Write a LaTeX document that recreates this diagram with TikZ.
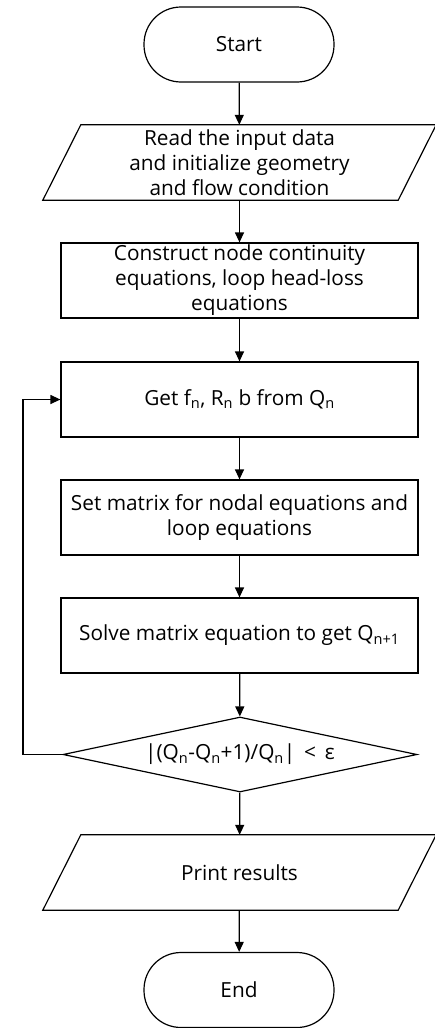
\documentclass[tikz,border=0pt]{standalone}
\usepackage{fontspec}
\setmainfont{Open Sans}
\usetikzlibrary{shapes.geometric,arrows.meta}
\begin{document}
\begin{tikzpicture}[x=1pt,y=-1pt,
  every node/.style={font=\fontsize{20.8}{25}\selectfont, align=center, inner sep=0pt},
  term/.style={draw, line width=1.2pt, rounded corners=37pt, minimum width=190pt, minimum height=75pt},
  procbox/.style={draw, line width=1.2pt, minimum width=357pt, minimum height=75pt},
  io/.style={minimum width=355pt, minimum height=75pt},
  decis/.style={draw, line width=1.2pt, diamond, aspect=4.72, minimum width=354pt, minimum height=75pt},
  arr/.style={line width=1.2pt, -{Triangle[width=9pt,length=10pt]}},
  outl/.style={line width=1.2pt}]
\useasboundingbox (0,0) rectangle (434,1028);
\node[term] (start) at (239,44.5) {Start};
\node[io] (read) at (239.5,162.5) {Read the input data\\and initialize geometry\\and flow condition};
\draw[outl] ([xshift=19pt]read.north west) -- ([xshift=19pt]read.north east) -- ([xshift=-19pt]read.south east) -- ([xshift=-19pt]read.south west) -- cycle;
\node[procbox] (cons) at (239.5,280.5) {Construct node continuity\\equations, loop head-loss\\equations};
\node[procbox] (get) at (239.5,399.5) {Get f\textsubscript{n}, R\textsubscript{n} b from Q\textsubscript{n}};
\node[procbox] (set) at (239.5,517.5) {Set matrix for nodal equations and\\loop equations};
\node[procbox] (solve) at (239.5,635.5) {Solve matrix equation to get Q\textsubscript{n+1}};
\node[decis] (cond) at (240,754.5) {|(Q\textsubscript{n}-Q\textsubscript{n}+1)/Q\textsubscript{n}| \,<\, ε};
\node[io] (print) at (239.5,872.5) {Print results};
\draw[outl] ([xshift=19pt]print.north west) -- ([xshift=19pt]print.north east) -- ([xshift=-19pt]print.south east) -- ([xshift=-19pt]print.south west) -- cycle;
\node[term] (end) at (239,990) {End};
\coordinate (lp) at (23,754.5);
\draw[arr] (start) -- (read);
\draw[arr] (read) -- (cons);
\draw[arr] (cons) -- (get);
\draw[arr] (get) -- (set);
\draw[arr] (set) -- (solve);
\draw[arr] (solve) -- (cond);
\draw[arr] (cond) -- (print);
\draw[arr] (print) -- (end);
\draw[arr] (cond.west) -- (lp) |- (get.west);
\end{tikzpicture}
\end{document}
